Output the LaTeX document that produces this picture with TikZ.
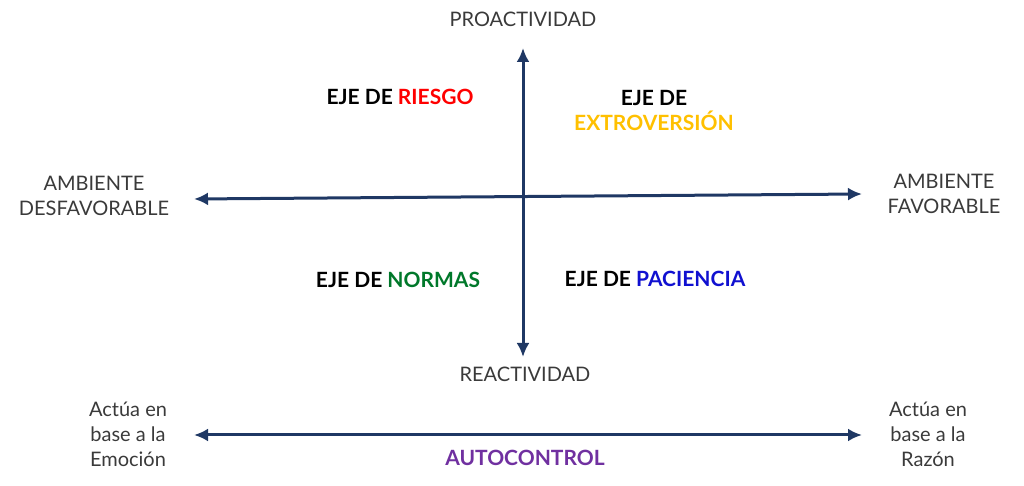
\documentclass[tikz,border=0pt]{standalone}
\usepackage{fontspec}
\setmainfont{Lato}
\usepackage{tikz}
\usetikzlibrary{arrows.meta,positioning}
\definecolor{ejeazul}{HTML}{1F3864}
\definecolor{txtgris}{HTML}{3A3A3A}
\definecolor{riesgo}{HTML}{FF0000}
\definecolor{extro}{HTML}{FFC000}
\definecolor{normas}{HTML}{00782A}
\definecolor{paciencia}{HTML}{1010D0}
\definecolor{autoc}{HTML}{7030A0}
\tikzset{
    axis/.style={draw=ejeazul, line width=1.5pt, {Latex[length=7pt,width=6.5pt]}-{Latex[length=7pt,width=6.5pt]}},
    etiqueta/.style={text=txtgris, font=\fontsize{10}{12.5}\selectfont, align=center, inner sep=0pt},
    eje/.style={text=black, font=\fontsize{10.5}{12.5}\selectfont\bfseries, align=center, inner sep=0pt},
}

\begin{document}
\begin{tikzpicture}[x=0.5pt,y=-0.5pt]
		\useasboundingbox (0,0) rectangle (1024,486);
		% ejes
		\coordinate (v_top) at (523,48);
		\coordinate (v_bot) at (523,357);
		\coordinate (h_left) at (194,199);
		\coordinate (h_right) at (862,194);
		\coordinate (a_left) at (194,435);
		\coordinate (a_right) at (862,435);
		\draw[axis] (v_bot) -- (v_top);
		\draw[axis] (h_left) -- (h_right);
		\draw[axis] (a_left) -- (a_right);
		% textos de los extremos
		\node[etiqueta] (proac) at (523,19) {PROACTIVIDAD};
		\node[etiqueta] (reac) at (525,374) {REACTIVIDAD};
		\node[etiqueta] (desfav) at (94,196) {AMBIENTE\\DESFAVORABLE};
		\node[etiqueta] (fav) at (944,194) {AMBIENTE\\FAVORABLE};
		\node[etiqueta] (emocion) at (128,434) {Actúa en\\base a la\\Emoción};
		\node[etiqueta] (razon) at (928,434) {Actúa en\\base a la\\Razón};
		% cuadrantes
		\node[eje] (riesgo) at (400,97) {EJE DE \textcolor{riesgo}{RIESGO}};
		\node[eje] (extrov) at (654,110) {EJE DE\\\textcolor{extro}{EXTROVERSIÓN}};
		\node[eje] (normas) at (398,280) {EJE DE \textcolor{normas}{NORMAS}};
		\node[eje] (pacien) at (655,279) {EJE DE \textcolor{paciencia}{PACIENCIA}};
		\node[eje, text=autoc] (autoctl) at (525,458) {AUTOCONTROL};
\end{tikzpicture}
\end{document}
